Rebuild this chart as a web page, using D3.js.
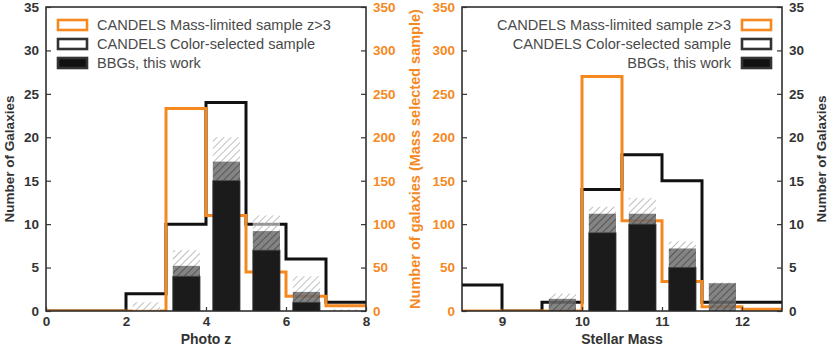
<!DOCTYPE html>
<html><head><meta charset="utf-8">
<script src="https://cdn.jsdelivr.net/npm/d3@7/dist/d3.min.js"></script>
<style>body{margin:0;background:#fff}svg{display:block}</style>
</head><body><svg id="c" width="830" height="346"></svg>
<script>
// ---- Left panel: Photo z ----
const zEdges   = [0,1,2,3,4,5,6,7,8];
const zColor   = [0,0,2,10,24,10,6,1];          // CANDELS color-selected (left axis)
const zMass    = [0,0,0,233,110,45,17,6];       // CANDELS mass-limited (orange axis)
const zBBG     = [0,0,0,4,15,7,1,0];            // BBGs, this work
const zBBGmid  = [0,0,0,5.2,17.2,9.2,2.2,0];    // dark hatched top
const zBBGhigh = [0,0,1,7,20,11,4,0.2];         // light hatched top
const zTicks   = [0,2,4,6,8];

// ---- Right panel: Stellar Mass ----
const mEdges   = [8.5,9,9.5,10,10.5,11,11.5,12,12.5];
const mColor   = [3,0,1,14,18,15,1,1];
const mMass    = [0,0,0,270,104,34,5,2];
const mBBG     = [0,0,0,9,10,5,0,0];
const mBBGmid  = [0,0,1.4,11.2,11.2,7.2,3.2,0];
const mBBGhigh = [0,0,2,12,13,8,3.3,0];
const mTicks   = [9,10,11,12];

const nTicks = [0,5,10,15,20,25,30,35];
const oTicks = [0,50,100,150,200,250,300,350];

const legendLabels = ["CANDELS Mass-limited sample z>3","CANDELS Color-selected sample","BBGs, this work"];

const ORANGE = "#f5891f", DARK = "#333", FONT = "Liberation Sans, Arial, sans-serif";
const svg = d3.select("#c");
const defs = svg.append("defs");

function hatch(id, bg, line, lw){
  const p = defs.append("pattern").attr("id",id).attr("patternUnits","userSpaceOnUse")
    .attr("width",5).attr("height",5).attr("patternTransform","rotate(45)");
  p.append("rect").attr("width",5).attr("height",5).attr("fill",bg);
  p.append("line").attr("x1",0).attr("y1",0).attr("x2",0).attr("y2",5)
    .attr("stroke",line).attr("stroke-width",lw);
}
hatch("hLight","rgba(255,255,255,0.55)","#aaaaaa",1.5);
hatch("hDark","rgba(110,110,110,0.85)","#474747",1.5);

const plotTop = 7, plotBot = 311;

function panel(o){
  const x = d3.scaleLinear().domain(o.xDomain).range([o.x0,o.x1]);
  const yN = d3.scaleLinear().domain([0,35]).range([plotBot,plotTop]);
  const yO = d3.scaleLinear().domain([0,350]).range([plotBot,plotTop]);
  const g = svg.append("g");
  const cid = "clip"+o.id;
  defs.append("clipPath").attr("id",cid).append("rect")
    .attr("x",o.x0).attr("y",plotTop).attr("width",o.x1-o.x0).attr("height",plotBot-plotTop);
  const pg = g.append("g").attr("clip-path",`url(#${cid})`);

  const stepPts = (edges, vals) => edges.map((e,i)=>[e, vals[Math.min(i, vals.length-1)]]);
  pg.append("path").datum(stepPts(o.edges,o.color))
    .attr("d", d3.line().x(d=>x(d[0])).y(d=>yN(d[1])).curve(d3.curveStepAfter))
    .attr("fill","none").attr("stroke","#111").attr("stroke-width",3);
  pg.append("path").datum(stepPts(o.edges,o.mass))
    .attr("d", d3.line().x(d=>x(d[0])).y(d=>yO(d[1])).curve(d3.curveStepAfter))
    .attr("fill","none").attr("stroke",ORANGE).attr("stroke-width",3);

  const w = o.edges[1]-o.edges[0];
  o.bbg.forEach((v,i)=>{
    const bx0 = x(o.edges[i]+0.17*w), bx1 = x(o.edges[i]+0.85*w);
    const mid = o.mid[i], high = o.high[i];
    if (high > mid) pg.append("rect").attr("x",bx0).attr("width",bx1-bx0)
      .attr("y",yN(high)).attr("height",yN(mid)-yN(high)).attr("fill","url(#hLight)");
    if (mid > v) pg.append("rect").attr("x",bx0).attr("width",bx1-bx0)
      .attr("y",yN(mid)).attr("height",yN(v)-yN(mid)).attr("fill","url(#hDark)");
    if (v > 0) pg.append("rect").attr("x",bx0).attr("width",bx1-bx0)
      .attr("y",yN(v)).attr("height",yN(0)-yN(v)).attr("fill","#1b1b1b")
      .attr("stroke","#3a3a3a").attr("stroke-width",0.8);
  });

  g.append("rect").attr("x",o.x0).attr("y",plotTop).attr("width",o.x1-o.x0).attr("height",plotBot-plotTop)
    .attr("fill","none").attr("stroke","#222").attr("stroke-width",1.5);

  const nLeft = o.nSide === "left";
  const axN = (nLeft ? d3.axisLeft(yN) : d3.axisRight(yN)).tickValues(nTicks).tickSize(-5).tickPadding(7);
  const axO = (nLeft ? d3.axisRight(yO) : d3.axisLeft(yO)).tickValues(oTicks).tickSize(-5).tickPadding(7);
  const gN = g.append("g").attr("transform",`translate(${nLeft?o.x0:o.x1},0)`).call(axN);
  const gO = g.append("g").attr("transform",`translate(${nLeft?o.x1:o.x0},0)`).call(axO);
  const gX = g.append("g").attr("transform",`translate(0,${plotBot})`)
    .call(d3.axisBottom(x).tickValues(o.xTicks).tickSize(-4).tickPadding(5).tickFormat(d3.format("d")));
  [gN,gO,gX].forEach(a=>{
    a.select(".domain").remove();
    a.selectAll(".tick line").attr("stroke","#333").attr("stroke-width",1.2);
    a.selectAll("text").attr("font-family",FONT).attr("font-size",13.5).attr("font-weight","bold").attr("fill",DARK);
  });
  gO.selectAll("text").attr("fill",ORANGE);

  g.append("text").attr("x",(o.x0+o.x1)/2).attr("y",343.5).attr("text-anchor","middle")
    .attr("font-family",FONT).attr("font-size",14).attr("font-weight","bold").attr("fill",DARK).text(o.xTitle);

  const lg = g.append("g");
  const rows = [25,44,63];
  const sw = [{fill:"#fff",stroke:ORANGE},{fill:"#fff",stroke:"#333"},{fill:"#111",stroke:"#333"}];
  rows.forEach((ry,i)=>{
    const sx = o.legendRight ? o.x1-40 : o.x0+12;
    lg.append("rect").attr("x",sx).attr("y",ry-5).attr("width",29).attr("height",10)
      .attr("fill",sw[i].fill).attr("stroke",sw[i].stroke).attr("stroke-width",2.6);
    lg.append("text").attr("x", o.legendRight ? sx-11 : sx+39).attr("y",ry+5)
      .attr("text-anchor", o.legendRight ? "end":"start")
      .attr("font-family",FONT).attr("font-size",14.6).attr("fill","#4a4a4a").text(legendLabels[i]);
  });
}

panel({id:"L", xDomain:[0,8], x0:46, x1:366, edges:zEdges, color:zColor, mass:zMass,
  bbg:zBBG, mid:zBBGmid, high:zBBGhigh, xTicks:zTicks, nSide:"left", xTitle:"Photo z", legendRight:false});
panel({id:"R", xDomain:[8.5,12.5], x0:462, x1:782, edges:mEdges, color:mColor, mass:mMass,
  bbg:mBBG, mid:mBBGmid, high:mBBGhigh, xTicks:mTicks, nSide:"right", xTitle:"Stellar Mass", legendRight:true});

function vTitle(xp, txt, col, fs){
  svg.append("text").attr("transform",`translate(${xp},159) rotate(-90)`).attr("text-anchor","middle")
    .attr("font-family",FONT).attr("font-size",fs).attr("font-weight","bold").attr("fill",col).text(txt);
}
vTitle(14,"Number of Galaxies",DARK,13.5);
vTitle(420,"Number of galaxies (Mass selected sample)",ORANGE,14.5);
vTitle(826,"Number of Galaxies",DARK,13.5);
</script></body></html>
